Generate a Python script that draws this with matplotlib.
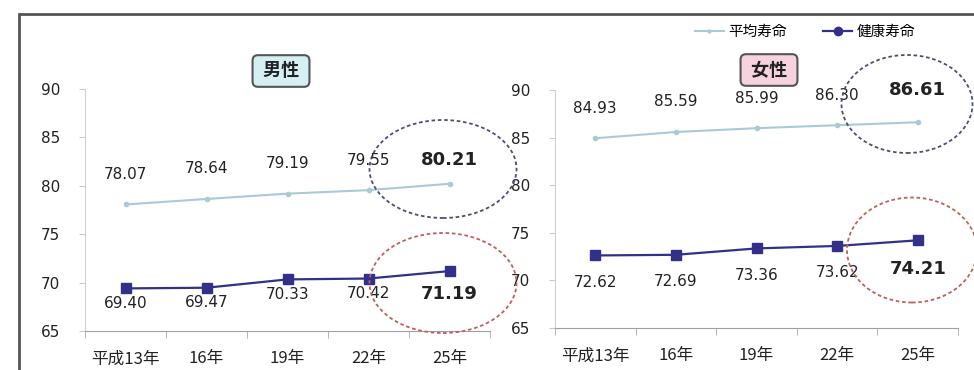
import matplotlib.pyplot as plt
from matplotlib.patches import Ellipse, Rectangle
from matplotlib.lines import Line2D

plt.rcParams['font.family'] = ['DejaVu Sans', 'Noto Sans CJK JP']

years = ['平成13年', '16年', '19年', '22年', '25年']
male_avg = [78.07, 78.64, 79.19, 79.55, 80.21]
male_health = [69.40, 69.47, 70.33, 70.42, 71.19]
female_avg = [84.93, 85.59, 85.99, 86.30, 86.61]
female_health = [72.62, 72.69, 73.36, 73.62, 74.21]
yticks = [65, 70, 75, 80, 85, 90]

AVG_COLOR = '#a9cad6'
HEALTH_COLOR = '#33308a'

W, H = 974, 370
fig = plt.figure(figsize=(W / 100, H / 100), dpi=100)


def px(x0, y0, x1, y1):
    # pixel box (from top-left) -> figure fraction rect
    return [x0 / W, 1 - y1 / H, (x1 - x0) / W, (y1 - y0) / H]


def panel(rect, avg, health, title, title_color, title_xy, up_off, down_off):
    ax = fig.add_axes(rect)
    x = list(range(len(years)))
    ax.plot(x, avg, color=AVG_COLOR, lw=1.5, marker='o', ms=3, label='平均寿命')
    ax.plot(x, health, color=HEALTH_COLOR, lw=1.6, marker='s', ms=7, label='健康寿命')
    ax.set_xlim(-0.5, 4.5)
    ax.set_ylim(65, 90)
    ax.set_yticks(yticks)
    ax.set_xticks(x)
    ax.set_xticklabels(years, family=['Noto Sans CJK JP'], fontsize=12, color='#222')
    ax.set_xticks([i + 0.5 for i in range(-1, 5)], minor=True)
    ax.tick_params(axis='x', which='major', length=0, pad=14)
    ax.tick_params(axis='x', which='minor', length=5, color='#aaa', direction='out')
    ax.tick_params(axis='y', length=4, color='#ccc', labelsize=11, labelcolor='#222', pad=14)
    for s in ['top', 'right']:
        ax.spines[s].set_visible(False)
    ax.spines['left'].set_color('#d0d0d0')
    ax.spines['bottom'].set_color('#a0a0a0')
    ax.set_facecolor('none')
    for i, v in enumerate(avg):
        last = i == len(avg) - 1
        ax.annotate(f'{v:.2f}', (i, v), xytext=(0, up_off[last]), textcoords='offset pixels',
                    ha='center', va='center', fontsize=13 if last else 11,
                    fontweight='bold' if last else 'normal', color='#222')
    for i, v in enumerate(health):
        last = i == len(health) - 1
        ax.annotate(f'{v:.2f}', (i, v), xytext=(0, -down_off[last]), textcoords='offset pixels',
                    ha='center', va='center', fontsize=13 if last else 11,
                    fontweight='bold' if last else 'normal', color='#222')
    fig.text(title_xy[0] / W, 1 - title_xy[1] / H, title, family=['Noto Sans CJK JP'],
             fontsize=13, fontweight='bold', ha='center', va='center', color='#222',
             bbox=dict(boxstyle='round,pad=0.35,rounding_size=0.3', fc=title_color,
                       ec='#555', lw=1.5))
    return ax


ax1 = panel(px(85, 89, 490, 331), male_avg, male_health, ' 男性 ', '#d6eff2',
            (281, 71), (30, 24), (15, 23))
ax2 = panel(px(555, 90, 958, 328), female_avg, female_health, ' 女性 ', '#f6d3de',
            (769, 70), (30, 32), (27, 29))

# ellipses highlighting latest values
for (cx, cy, w, h, c) in [(443, 169, 147, 98, '#4a4f7a'), (443, 283, 147, 100, '#c0605a'),
                          (907, 104, 131, 98, '#4a4f7a'), (912, 250, 130, 105, '#c0605a')]:
    fig.add_artist(Ellipse((cx / W, 1 - cy / H), w / W, h / H, transform=fig.transFigure,
                           fill=False, ls=(0, (2, 1.5)), lw=1.3, ec=c))

# outer frame
fig.add_artist(Rectangle((19 / W, -0.1), 1.2, 1 - 14 / H + 0.1, transform=fig.transFigure,
                         fill=False, ec='#555', lw=2, clip_on=False))

handles = [Line2D([], [], color=AVG_COLOR, lw=1.5, marker='o', ms=2),
           Line2D([], [], color=HEALTH_COLOR, lw=1.6, marker='o', ms=6)]
fig.legend(handles, ['平均寿命', '健康寿命'], loc='center', bbox_to_anchor=(805 / W, 1 - 32 / H),
           ncol=2, frameon=False, handlelength=2, columnspacing=2.5, handletextpad=0.3,
           prop={'family': 'Noto Sans CJK JP', 'size': 10.5})

fig.savefig('out.png', dpi=100)
